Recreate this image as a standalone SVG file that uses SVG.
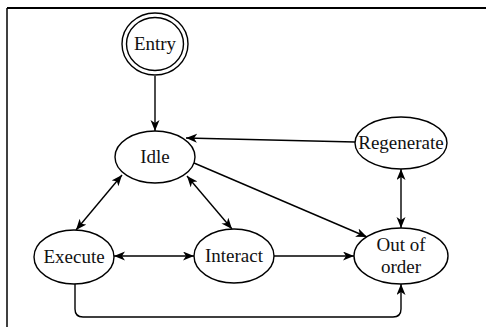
<svg xmlns="http://www.w3.org/2000/svg" width="486" height="327" viewBox="0 0 486 327">
<defs>
<marker id="arr" markerUnits="userSpaceOnUse" markerWidth="12" markerHeight="10" refX="11" refY="4.5" orient="auto-start-reverse">
<path d="M0,0 L11,4.5 L0,9 L3,4.5 Z" fill="#000"/>
</marker>
<style>
.n{fill:#fff;stroke:#000;stroke-width:1.4}
.t{font-family:"Liberation Serif","Times New Roman",serif;font-size:19px;fill:#111;text-anchor:middle}
.c{fill:none;stroke:#000;stroke-width:1.4}
</style>
</defs>
<rect width="486" height="327" fill="#fff"/>
<g id="frame">
<path d="M7,8 L486,8" stroke="#000" stroke-width="2" fill="none"/>
<path d="M7,8 L7,327" stroke="#000" stroke-width="1.5" fill="none"/>
</g>
<g id="connectors">
<path class="c" d="M155,76 L155,131" marker-end="url(#arr)"/>
<path class="c" d="M355,142 L186,138" marker-end="url(#arr)"/>
<path class="c" d="M194,163 L367,237" marker-end="url(#arr)"/>
<path class="c" d="M401,169 L401,228" marker-start="url(#arr)" marker-end="url(#arr)"/>
<path class="c" d="M122,175 L76,230" marker-start="url(#arr)" marker-end="url(#arr)"/>
<path class="c" d="M187,176 L232,229" marker-start="url(#arr)" marker-end="url(#arr)"/>
<path class="c" d="M114,256 L194,256" marker-start="url(#arr)" marker-end="url(#arr)"/>
<path class="c" d="M274,256 L354,256" marker-end="url(#arr)"/>
<path class="c" d="M75,284 L75,309 Q75,317 83,317 L393,317 Q401,317 401,309 L401,284" marker-end="url(#arr)"/>
</g>
<g id="entry">
<ellipse class="n" cx="155" cy="44" rx="33" ry="31"/>
<ellipse class="n" cx="155" cy="44" rx="28.5" ry="26.5"/>
<text class="t" x="155" y="50">Entry</text>
</g>
<g id="idle">
<ellipse class="n" cx="155" cy="157" rx="40" ry="26"/>
<text class="t" x="155" y="163">Idle</text>
</g>
<g id="regenerate">
<ellipse class="n" cx="401" cy="143" rx="46" ry="26"/>
<text class="t" x="401" y="149">Regenerate</text>
</g>
<g id="execute">
<ellipse class="n" cx="74" cy="257" rx="40" ry="27"/>
<text class="t" x="74" y="263">Execute</text>
</g>
<g id="interact">
<ellipse class="n" cx="234" cy="256" rx="40" ry="27"/>
<text class="t" x="234" y="262">Interact</text>
</g>
<g id="outoforder">
<ellipse class="n" cx="401" cy="256" rx="47" ry="28"/>
<text class="t" x="401" y="251">Out of</text>
<text class="t" x="401" y="273">order</text>
</g>
</svg>
